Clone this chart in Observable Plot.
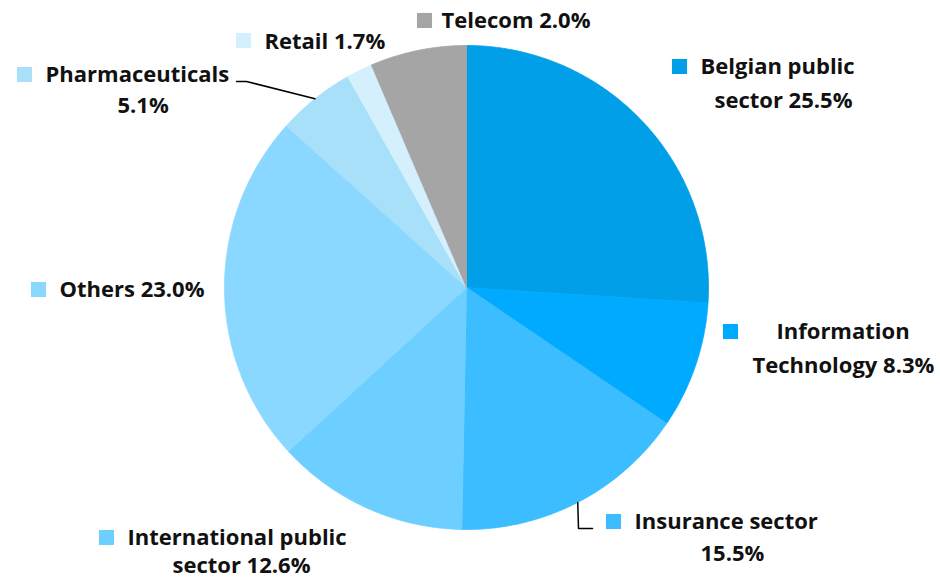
<!DOCTYPE html>
<html><head><meta charset="utf-8">
<script src="https://cdn.jsdelivr.net/npm/d3@7"></script>
<script src="https://cdn.jsdelivr.net/npm/@observablehq/plot@0.6"></script>
<style>body{margin:0;background:#fff;} svg{display:block;}</style>
</head><body><div id="chart"></div>
<script>
// ---- data ----
const sectors = ["Belgian public sector", "Information Technology", "Insurance sector", "International public sector", "Others", "Pharmaceuticals", "Retail", "Telecom"];
const values = [25.5, 8.3, 15.5, 12.6, 23.0, 5.1, 1.7, 6.3];          // slice sizes as drawn
const shareLabels = ["25.5%", "8.3%", "15.5%", "12.6%", "23.0%", "5.1%", "1.7%", "2.0%"]; // printed labels
const colors = ["#009FE8", "#00AAFF", "#3BBDFF", "#6DCFFF", "#8AD8FF", "#A8E0FA", "#D4F0FC", "#A5A5A5"];

// ---- layout (pixels) ----
const W = 940, H = 580, CX = 466, CY = 287, R = 242;
const firstLineWords = [2, 1, 2, 2, 99, 1, 99, 99];
const labelLayout = [
  {sq: [679, 66], lines: [[700, 66], [714, 100]]},
  {sq: [730, 331], lines: [[776, 331], [752, 365]]},
  {sq: [613, 521], lines: [[634, 521], [700, 553]]},
  {sq: [106, 537], lines: [[127, 537], [172, 565]]},
  {sq: [38, 289], lines: [[59, 289]]},
  {sq: [24, 74], lines: [[45, 74], [117, 105]]},
  {sq: [243, 40], lines: [[264, 41]]},
  {sq: [424, 20], lines: [[441, 20]]}
];
const leaders = {5: [[246, 81], [236, 81]], 2: [[578, 528], [592, 528]]};

// ---- build ----
const arcs = d3.pie().sort(null)(values);
const slicePts = [];
arcs.forEach((a, i) => {
  slicePts.push({i, x: CX, y: CY});
  const n = Math.max(4, Math.ceil((a.endAngle - a.startAngle) / 0.005));
  for (let k = 0; k <= n; k++) {
    const t = a.startAngle + (a.endAngle - a.startAngle) * k / n;
    slicePts.push({i, x: CX + R * Math.sin(t), y: CY - R * Math.cos(t)});
  }
  slicePts.push({i, x: CX, y: CY});
});

const texts = [];
const squares = [];
sectors.forEach((s, i) => {
  const words = (s + " " + shareLabels[i]).split(" ");
  const l1 = words.slice(0, firstLineWords[i]).join(" ");
  const l2 = words.slice(firstLineWords[i]).join(" ");
  const L = labelLayout[i];
  texts.push({x: L.lines[0][0], y: L.lines[0][1], t: l1});
  if (l2) texts.push({x: L.lines[1][0], y: L.lines[1][1], t: l2});
  squares.push({x: L.sq[0], y: L.sq[1], c: colors[i]});
});

const leaderPts = [];
Object.entries(leaders).forEach(([k, pts]) => {
  const a = arcs[+k];
  const m = (a.startAngle + a.endAngle) / 2;
  leaderPts.push({k, x: CX + R * Math.sin(m), y: CY - R * Math.cos(m)});
  pts.forEach(p => leaderPts.push({k, x: p[0], y: p[1]}));
});

const marks = [];
sectors.forEach((s, i) => {
  marks.push(Plot.line(slicePts.filter(d => d.i === i), {x: "x", y: "y", fill: colors[i], stroke: colors[i], strokeWidth: 0.8, curve: "linear"}));
});
marks.push(Plot.line(leaderPts, {x: "x", y: "y", z: "k", stroke: "#000", strokeWidth: 1.5}));
marks.push(Plot.dot(squares, {x: "x", y: "y", symbol: "square", r: 8.5, fill: "c", stroke: null}));
marks.push(Plot.text(texts, {x: "x", y: "y", text: "t", textAnchor: "start", lineAnchor: "middle", fill: "#111", fontWeight: "bold", fontSize: 22}));

const chart = Plot.plot({
  width: W, height: H, margin: 0,
  x: {domain: [0, W], range: [0, W], axis: null},
  y: {domain: [0, H], range: [0, H], axis: null},
  color: {type: "identity"},
  style: {fontFamily: "'Open Sans', sans-serif", background: "#fff"},
  marks
});
document.getElementById("chart").appendChild(chart);
</script>
</body></html>
